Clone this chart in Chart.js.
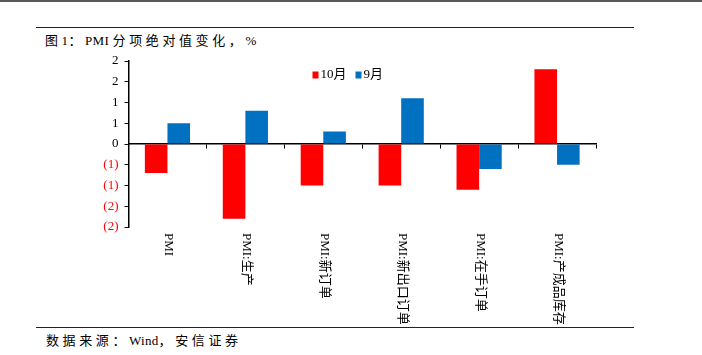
<!DOCTYPE html>
<html>
<head>
<meta charset="utf-8">
<script src="https://cdn.jsdelivr.net/npm/chart.js@4"></script>
<style>
  html, body { margin: 0; padding: 0; background: #fff; }
  body { width: 702px; height: 355px; position: relative; overflow: hidden; }
  #topbar { position: absolute; left: 0; top: 0; width: 702px; height: 2px; background: #5a5a5a; }
  .rule { position: absolute; left: 36px; width: 598px; height: 1.5px; background: #222; }
  .txt { position: absolute; font-family: "Liberation Serif", "Noto Sans CJK SC", serif; font-size: 13px; color: #000; letter-spacing: 3.6px; white-space: nowrap; line-height: 16px; }
  .txt .l { letter-spacing: 0.3px; }
  #wrap { position: absolute; left: 0; top: 0; width: 702px; height: 355px; }
</style>
</head>
<body>
<div id="topbar"></div>
<div class="rule" style="top:26.5px"></div>
<div class="txt" style="left:45px; top:33px">图<span class="l">1</span>：<span class="l">PMI </span>分项绝对值变化，<span class="l">%</span></div>
<div class="rule" style="top:326.5px"></div>
<div class="txt" style="left:46px; top:333px">数据来源：<span class="l">Wind</span>，安信证券</div>
<div id="wrap"><canvas id="c" width="702" height="355"></canvas></div>
<script>
const categories = ['PMI', 'PMI:生产', 'PMI:新订单', 'PMI:新出口订单', 'PMI:在手订单', 'PMI:产成品库存'];
const seriesNames = ['10月', '9月'];
const octValues = [-0.7, -1.8, -1.0, -1.0, -1.1, 1.8];
const sepValues = [0.5, 0.8, 0.3, 1.1, -0.6, -0.5];
const yTickLabels = ['(2)', '(2)', '(1)', '(1)', '0', '1', '1', '2', '2'];

const RED = '#FF0000';
const BLUE = '#0070C0';
const FONT = '"Liberation Serif", "Noto Sans CJK SC", serif';

const categoryLabelPlugin = {
  id: 'categoryLabels',
  afterDraw(chart) {
    const ctx = chart.ctx;
    const xs = chart.scales.x;
    ctx.save();
    ctx.font = '13px ' + FONT;
    ctx.fillStyle = '#000';
    ctx.textAlign = 'left';
    ctx.textBaseline = 'middle';
    chart.data.labels.forEach((lab, i) => {
      const x = xs.getPixelForValue(i);
      ctx.save();
      ctx.translate(x + 1, chart.chartArea.bottom + 6);
      ctx.rotate(Math.PI / 2);
      ctx.fillText(lab, 0, 0);
      ctx.restore();
    });
    ctx.restore();
  }
};

const legendPlugin = {
  id: 'innerLegend',
  afterDraw(chart) {
    const ctx = chart.ctx;
    ctx.save();
    ctx.font = '13px ' + FONT;
    ctx.textBaseline = 'middle';
    ctx.textAlign = 'left';
    let x = 312.5;
    const y = 75;
    chart.data.datasets.forEach(ds => {
      ctx.fillStyle = ds.backgroundColor;
      ctx.fillRect(x, y - 3.5, 6, 7);
      ctx.fillStyle = '#000';
      ctx.fillText(ds.label, x + 8, y);
      x += 8 + ctx.measureText(ds.label).width + 9;
    });
    ctx.restore();
  }
};

new Chart(document.getElementById('c'), {
  type: 'bar',
  data: {
    labels: categories,
    datasets: [
      { label: seriesNames[0], data: octValues, backgroundColor: RED, borderWidth: 0 },
      { label: seriesNames[1], data: sepValues, backgroundColor: BLUE, borderWidth: 0 }
    ]
  },
  options: {
    responsive: false,
    animation: false,
    devicePixelRatio: 1,
    categoryPercentage: 0.58,
    barPercentage: 1.0,
    layout: { padding: { left: 0, right: 106, top: 61, bottom: 128 } },
    plugins: {
      legend: { display: false },
      tooltip: { enabled: false },
      title: { display: false }
    },
    scales: {
      x: {
        position: { y: 0 },
        offset: true,
        ticks: { display: false },
        grid: { display: true, drawOnChartArea: false, drawTicks: true, tickLength: 4, color: '#000', offset: true, lineWidth: 1 },
        border: { display: true, color: '#000', width: 1.5 }
      },
      y: {
        min: -2,
        max: 2,
        afterFit(scale) { scale.width = 128.5; },
        ticks: {
          stepSize: 0.5,
          padding: 6,
          font: { family: FONT, size: 13 },
          color: (c) => (c.tick && c.tick.value < 0 ? RED : '#000'),
          callback: (v, i) => yTickLabels[i]
        },
        grid: { display: true, drawOnChartArea: false, drawTicks: true, tickLength: 4, color: '#000', lineWidth: 1 },
        border: { display: true, color: '#000', width: 1.5 }
      }
    }
  },
  plugins: [categoryLabelPlugin, legendPlugin]
});
</script>
</body>
</html>
